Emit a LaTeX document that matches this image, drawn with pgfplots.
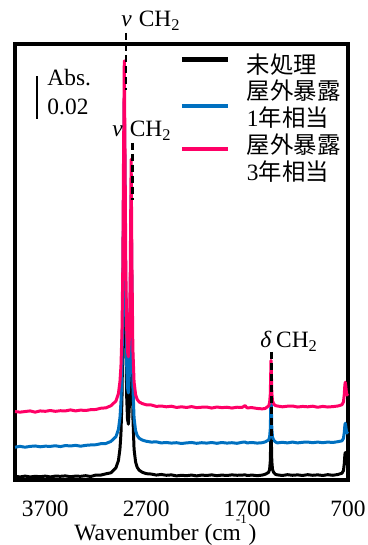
\documentclass[border=0pt]{standalone}
\usepackage{pgfplots}
\pgfplotsset{compat=1.18}
\usepackage{pgfplotstable}
\usepackage{fontspec}
\setmainfont{Liberation Serif}
\newfontfamily\cjk{Noto Sans CJK JP}
\definecolor{pinkc}{RGB}{255,0,102}
\definecolor{bluec}{RGB}{0,112,192}

\pgfplotstableread{
nu k b p
4000 0.0018 0.0160 0.0334
3950 0.0015 0.0164 0.0331
3900 0.0019 0.0160 0.0334
3850 0.0015 0.0164 0.0337
3800 0.0018 0.0166 0.0331
3750 0.0016 0.0162 0.0337
3700 0.0019 0.0165 0.0335
3650 0.0015 0.0164 0.0339
3600 0.0019 0.0167 0.0335
3550 0.0018 0.0163 0.0338
3500 0.0020 0.0168 0.0337
3450 0.0016 0.0166 0.0342
3400 0.0019 0.0169 0.0337
3350 0.0018 0.0165 0.0341
3300 0.0021 0.0169 0.0339
3250 0.0017 0.0171 0.0343
3200 0.0024 0.0172 0.0344
3150 0.0024 0.0177 0.0350
3100 0.0030 0.0178 0.0352
3050 0.0035 0.0188 0.0362
3000 0.0059 0.0211 0.0385
2975 0.0095 0.0247 0.0422
2960 0.0151 0.0304 0.0480
2950 0.0226 0.0379 0.0555
2940 0.0392 0.0545 0.0721
2932 0.0691 0.0844 0.1020
2925 0.1201 0.1354 0.1530
2917 0.1716 0.1869 0.2045
2910 0.1301 0.1454 0.1630
2902 0.0711 0.0864 0.1040
2893 0.0404 0.0557 0.0733
2885 0.0297 0.0450 0.0626
2876 0.0272 0.0425 0.0601
2866 0.0367 0.0520 0.0696
2858 0.0678 0.0831 0.1007
2849 0.1236 0.1389 0.1565
2841 0.0721 0.0874 0.1050
2832 0.0312 0.0465 0.0641
2820 0.0150 0.0303 0.0479
2805 0.0088 0.0241 0.0417
2790 0.0063 0.0218 0.0394
2770 0.0048 0.0204 0.0381
2740 0.0038 0.0195 0.0373
2700 0.0031 0.0189 0.0367
2650 0.0029 0.0185 0.0366
2600 0.0024 0.0186 0.0359
2550 0.0027 0.0181 0.0361
2500 0.0023 0.0183 0.0357
2450 0.0025 0.0180 0.0360
2400 0.0020 0.0182 0.0354
2350 0.0023 0.0178 0.0357
2300 0.0021 0.0181 0.0354
2250 0.0024 0.0183 0.0358
2200 0.0020 0.0179 0.0353
2150 0.0024 0.0182 0.0355
2100 0.0022 0.0180 0.0356
2050 0.0025 0.0183 0.0351
2000 0.0021 0.0179 0.0356
1950 0.0024 0.0183 0.0353
1900 0.0022 0.0180 0.0355
1850 0.0025 0.0182 0.0351
1800 0.0023 0.0179 0.0355
1750 0.0024 0.0184 0.0354
1720 0.0025 0.0185 0.0363
1700 0.0022 0.0181 0.0352
1650 0.0024 0.0183 0.0353
1600 0.0021 0.0180 0.0349
1550 0.0024 0.0182 0.0347
1520 0.0028 0.0186 0.0349
1487 0.0037 0.0195 0.0361
1477 0.0051 0.0209 0.0376
1470 0.0092 0.0250 0.0419
1466 0.0184 0.0342 0.0513
1463 0.0253 0.0411 0.0584
1459 0.0184 0.0342 0.0517
1455 0.0092 0.0250 0.0426
1448 0.0051 0.0209 0.0386
1437 0.0037 0.0195 0.0372
1420 0.0028 0.0186 0.0363
1400 0.0025 0.0181 0.0361
1350 0.0022 0.0184 0.0357
1300 0.0026 0.0181 0.0360
1250 0.0023 0.0185 0.0361
1200 0.0025 0.0181 0.0356
1150 0.0022 0.0184 0.0359
1100 0.0026 0.0185 0.0357
1050 0.0023 0.0182 0.0360
1000 0.0025 0.0185 0.0355
950 0.0022 0.0182 0.0359
900 0.0026 0.0185 0.0356
850 0.0023 0.0183 0.0358
800 0.0027 0.0187 0.0361
760 0.0033 0.0191 0.0367
745 0.0046 0.0203 0.0381
737 0.0079 0.0231 0.0417
731 0.0123 0.0268 0.0465
727 0.0134 0.0277 0.0477
722 0.0118 0.0263 0.0459
716 0.0090 0.0240 0.0429
710 0.0079 0.0231 0.0417
700 0.0074 0.0226 0.0411
}\spec

\begin{document}
\fontsize{23.5}{26.5}\selectfont
\begin{tikzpicture}
\begin{axis}[
  name=ax,
  width=333bp, height=436bp, scale only axis,
  x dir=reverse,
  xmin=700, xmax=4000, ymin=0, ymax=0.2127,
  clip=false,
  axis line style={line width=3.5pt},
  xtick={3700,2700,1700,700},
  xticklabels={3700,2700,1700,700},
  major tick length=0pt,
  ytick=\empty,
  xticklabel style={yshift=-13bp},
  xlabel={Wavenumber (cm\hspace{-5pt}\raisebox{17pt}{\fontsize{13}{13}\selectfont -1}\hspace{2pt})},
  xlabel style={at={(rel axis cs:0.5,0)}, anchor=base, yshift=-60bp, xshift=-16bp},
  legend cell align=left,
  legend style={draw=none, fill=none, inner sep=0pt, outer sep=0pt,
    at={(rel axis cs:0.5015,0.983)}, anchor=north west,
    row sep=0pt, column sep=19bp,
    nodes={inner sep=0pt, text height=20.5pt, text depth=5.3pt}},
  every axis plot/.append style={line width=3pt, line join=round},
]
\addplot[black, forget plot] table[x=nu,y=k]{\spec};
\addplot[bluec, forget plot] table[x=nu,y=b]{\spec};
\addplot[pinkc, forget plot] table[x=nu,y=p]{\spec};

\addlegendimage{legend image code/.code={\path[draw=none,fill=none] (0pt,0pt) rectangle (46bp,0.6em);
  \draw[black, overlay, line width=4.3pt] (0pt,6pt) -- (46bp,6pt);}}
\addlegendentry{{\cjk 未処理}}
\addlegendimage{legend image code/.code={\path[draw=none,fill=none] (0pt,0pt) rectangle (46bp,0.6em);
  \draw[bluec, overlay, line width=4.3pt] (0pt,-14pt) -- (46bp,-14pt);}}
\addlegendentry{{\cjk 屋外暴露}}
\addlegendimage{legend image code/.code={\path[draw=none,fill=none] (0pt,0pt) rectangle (46bp,0.6em);}}
\addlegendentry{1{\cjk 年相当}}
\addlegendimage{legend image code/.code={\path[draw=none,fill=none] (0pt,0pt) rectangle (46bp,0.6em);
  \draw[pinkc, overlay, line width=4.3pt] (0pt,-3pt) -- (46bp,-3pt);}}
\addlegendentry{{\cjk 屋外暴露}}
\addlegendimage{legend image code/.code={\path[draw=none,fill=none] (0pt,0pt) rectangle (46bp,0.6em);}}
\addlegendentry{3{\cjk 年相当}}

\draw[line width=2.5pt, dash pattern=on 7pt off 4pt] (axis cs:2898,0.2181) -- (axis cs:2898,0.1903);
\draw[line width=2.5pt, dash pattern=on 7pt off 4pt] (axis cs:2836,0.1645) -- (axis cs:2836,0.1366);
\draw[line width=2.5pt, dash pattern=on 7pt off 4pt] (axis cs:1460,0.0625) -- (axis cs:1460,0.0195);
\draw[line width=3pt] (axis cs:3782,0.1762) -- (axis cs:3782,0.1972);
\node[anchor=base west, inner sep=0pt] at (axis cs:3680,0.1923) {Abs.};
\node[anchor=base west, inner sep=0pt] at (axis cs:3680,0.1781) {0.02};
\node[anchor=base west, inner sep=0pt] at (axis cs:2948,0.2211) {\textit{v}\hspace{0.3em}CH\textsubscript{2}};
\node[anchor=base west, inner sep=0pt] at (axis cs:3037,0.1674) {\textit{v}\hspace{0.3em}CH\textsubscript{2}};
\node[anchor=base west, inner sep=0pt] at (axis cs:1571,0.0644) {\textit{δ}\hspace{0.2em}CH\textsubscript{2}};
\end{axis}
\pgfresetboundingbox
\path ([shift={(-15bp,-65bp)}]ax.south west) rectangle ([shift={(20bp,44bp)}]ax.north east);
\end{tikzpicture}
\end{document}
